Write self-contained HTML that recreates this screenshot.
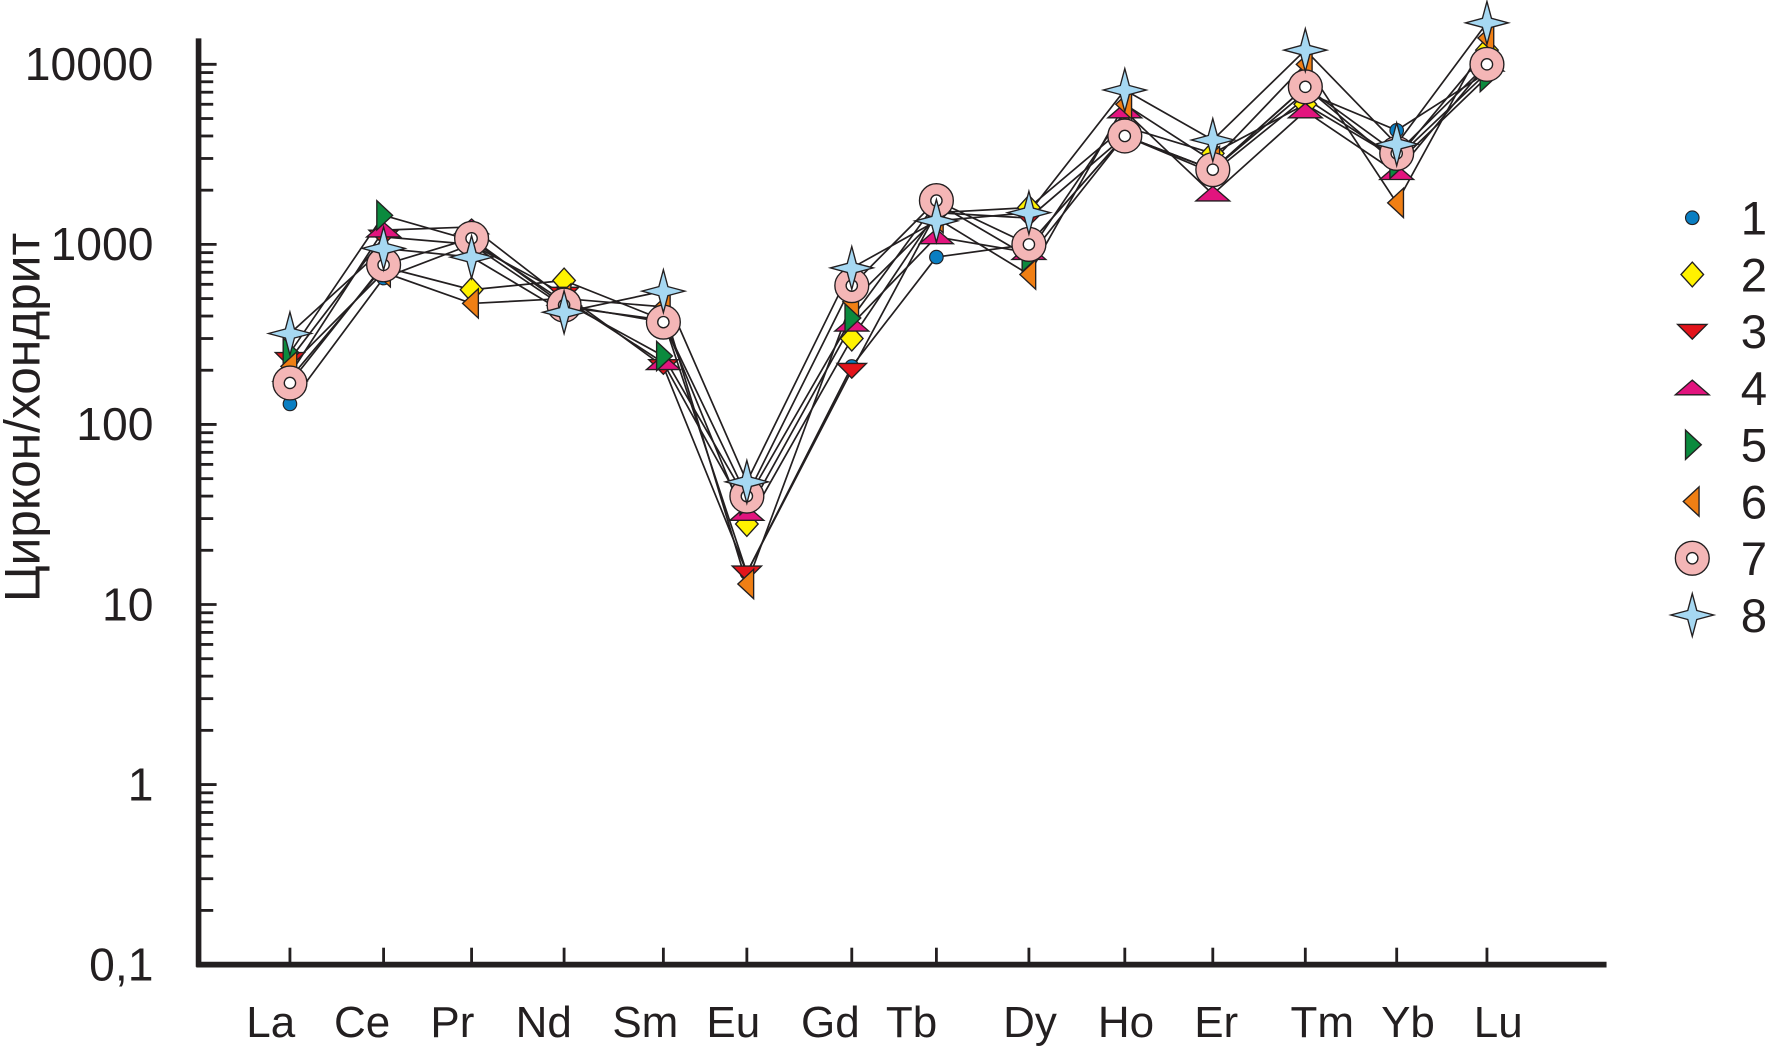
<!DOCTYPE html>
<html><head><meta charset="utf-8"><style>
html,body{margin:0;padding:0;background:#fff;}
svg{display:block;font-family:"Liberation Sans",sans-serif;}
</style></head><body>
<svg id="chart" width="1769" height="1047" viewBox="0 0 1568 928" xmlns="http://www.w3.org/2000/svg">
<g id="axes"></g>
<g id="lines"></g>
<g id="marks"></g>
<g id="legend"></g>
<text transform="translate(35,370) rotate(-90)" text-anchor="middle" font-size="44" fill="#231f20">Циркон/хондрит</text>
</svg>
<script>
const categories = ["La","Ce","Pr","Nd","Sm","Eu","Gd","Tb","Dy","Ho","Er","Tm","Yb","Lu"];
const s1 = [130,650,1000,450,380,15,210,850,1000,4000,2600,7000,4300,9000];
const s2 = [180,750,560,630,380,28,300,1500,1600,4500,3200,6000,3000,12000];
const s3 = [230,1100,1000,530,210,15,200,1500,1400,4000,2500,6500,3000,9000];
const s4 = [190,1200,1250,500,220,32,360,1100,900,5500,1900,5500,2500,10000];
const s5 = [250,1450,1050,480,240,38,390,1700,850,4000,2600,7500,2800,8500];
const s6 = [210,700,470,500,450,13,480,1400,680,6000,2900,10000,1700,14000];
const s7 = [170,770,1080,460,370,40,590,1750,1000,4000,2600,7500,3200,10000];
const s8 = [320,950,850,420,550,48,740,1350,1500,7200,3800,12000,3600,17000];
const seriesNames = ["1","2","3","4","5","6","7","8"];
const yTickValues = [0.1,1,10,100,1000,10000];
const yTickLabels = ["0,1","1","10","100","1000","10000"];

const series = [s1,s2,s3,s4,s5,s6,s7,s8];
const catX = [257,340,418,500,588,662,755,830,912,997,1075,1157,1238,1318];
const labelX = [240,321,401,482,572,650,736,808,913,998,1078,1172,1248,1328];
const NS="http://www.w3.org/2000/svg";
function y(v){return 855-(Math.log10(v)+1)*159.6;}
function x(i){return catX[i];}
function mk(tag,attrs,parent){const e=document.createElementNS(NS,tag);for(const k in attrs)e.setAttribute(k,attrs[k]);parent.appendChild(e);return e;}
const axes=document.getElementById('axes'),lines=document.getElementById('lines'),marks=document.getElementById('marks'),legend=document.getElementById('legend');

let a=mk('line',{x1:176,y1:34,x2:176,y2:857,stroke:'#231f20','stroke-width':5},axes);


a=mk('line',{x1:174,y1:855,x2:1424,y2:855,stroke:'#231f20','stroke-width':5},axes);


for(let d=-1;d<=4;d++){
  for(let m=1;m<=9;m++){
    const v=m*Math.pow(10,d); if(v>10000) break;
    if(d===-1&&m===1) continue;
    const t=mk('line',{x1:176,y1:y(v),x2:m===1?192:189,y2:y(v),stroke:'#231f20','stroke-width':2.5},axes);
    
    
  }
}
yTickValues.forEach((v,i)=>{
  const t=mk('text',{x:136,y:y(v)+14,'text-anchor':'end','font-size':41,fill:'#231f20'},axes);
  t.textContent=yTickLabels[i];
  
  
});
categories.forEach((c,i)=>{
  const t=mk('line',{x1:x(i),y1:840,x2:x(i),y2:855,stroke:'#231f20','stroke-width':2.5},axes);
  
  
  const l=mk('text',{x:labelX[i],y:919,'text-anchor':'middle','font-size':39,fill:'#231f20'},axes);
  l.textContent=c;
  
  
});

function marker(k,cx,cy,parent){
  const st='#231f20';let e;
  switch(k){
    case 0:e=mk('circle',{cx:cx,cy:cy,r:6,fill:'#0a7ec2',stroke:st,'stroke-width':1},parent);break;
    case 1:e=mk('polygon',{points:`${cx},${cy-11} ${cx+10},${cy} ${cx},${cy+11} ${cx-10},${cy}`,fill:'#fff200',stroke:st,'stroke-width':1.2},parent);break;
    case 2:e=mk('polygon',{points:`${cx-13},${cy-6} ${cx+13},${cy-6} ${cx},${cy+7}`,fill:'#e3141b',stroke:st,'stroke-width':1.2},parent);break;
    case 3:e=mk('polygon',{points:`${cx-15},${cy+6} ${cx+15},${cy+6} ${cx},${cy-7}`,fill:'#e2147e',stroke:st,'stroke-width':1.2},parent);break;
    case 4:e=mk('polygon',{points:`${cx-6},${cy-13} ${cx+8},${cy} ${cx-6},${cy+13}`,fill:'#0b8a3e',stroke:st,'stroke-width':1.2},parent);break;
    case 5:e=mk('polygon',{points:`${cx+6},${cy-13} ${cx-8},${cy} ${cx+6},${cy+13}`,fill:'#f07f14',stroke:st,'stroke-width':1.2},parent);break;
    case 6:e=mk('g',{},parent);mk('circle',{cx:cx,cy:cy,r:15,fill:'#f4b6b6',stroke:st,'stroke-width':1.2},e);mk('circle',{cx:cx,cy:cy,r:5,fill:'#fff',stroke:st,'stroke-width':1.2},e);break;
    case 7:e=mk('polygon',{points:`${cx},${cy-19} ${cx+4},${cy-4} ${cx+19},${cy} ${cx+4},${cy+4} ${cx},${cy+19} ${cx-4},${cy+4} ${cx-19},${cy} ${cx-4},${cy-4}`,fill:'#a6d8f2',stroke:st,'stroke-width':1.2},parent);break;
  }
  return e;
}
series.forEach((s,k)=>{
  const pts=s.map((v,i)=>x(i)+','+y(v)).join(' ');
  const pl=mk('polyline',{points:pts,fill:'none',stroke:'#231f20','stroke-width':1.5},lines);
  
  
});
series.forEach((s,k)=>{
  s.forEach((v,i)=>{
    const m=marker(k,x(i),y(v),marks);
    
    
  });
});
seriesNames.forEach((n,k)=>{
  const ly=193+k*50.3;
  const m=marker(k,1500,ly,legend);
  
  
  const t=mk('text',{x:1543,y:ly+15,'font-size':42,fill:'#231f20'},legend);
  t.textContent=n;
  
  
});
</script>
</body></html>
